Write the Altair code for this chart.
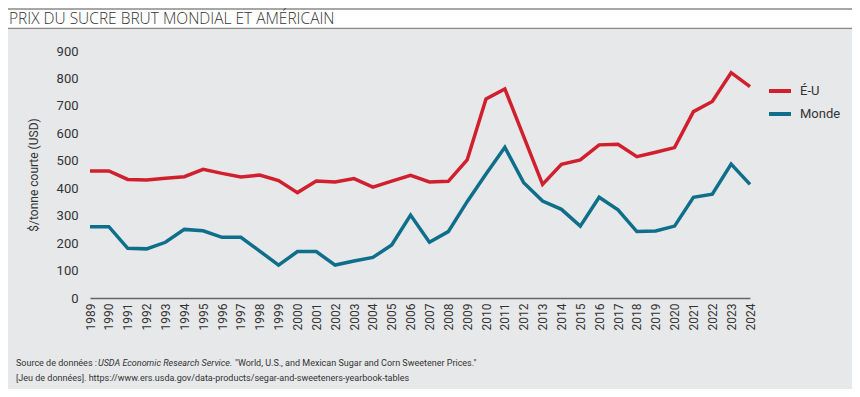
import altair as alt
import pandas as pd

years = list(range(1989, 2025))
us_price = [463, 463, 432, 430, 436, 442, 469, 454, 441, 448, 428, 384, 426, 423, 435, 404,
            426, 447, 423, 425, 503, 725, 762, 588, 414, 487, 503, 558, 560, 515, 531, 548,
            679, 716, 821, 770]
world_price = [260, 260, 181, 179, 203, 250, 245, 221, 221, 171, 120, 169, 169, 120, 135, 148,
               193, 302, 203, 242, 351, 452, 549, 420, 353, 323, 262, 367, 321, 242, 244, 262,
               367, 378, 488, 414]
series_names = ["É-U", "Monde"]
series_colors = ["#d0202e", "#0f6f8a"]
y_ticks = [0, 100, 200, 300, 400, 500, 600, 700, 800, 900]

title_text = "PRIX DU SUCRE BRUT MONDIAL ET AMÉRICAIN"
src_a = "Source de données :"
src_b = "USDA Economic Research Service."
src_c = "\"World, U.S., and Mexican Sugar and Corn Sweetener Prices.\""
src_d = "[Jeu de données]. https://www.ers.usda.gov/data-products/segar-and-sweeteners-yearbook-tables"

df = pd.DataFrame({
    "year": years * 2,
    "series": [series_names[0]] * len(years) + [series_names[1]] * len(years),
    "value": us_price + world_price,
})

one = pd.DataFrame({"a": [0]})
FONT = "Roboto"
PANEL = "#e7e8ea"

bg = alt.Chart(one).mark_rect(color=PANEL).encode(
    x=alt.value(-82), x2=alt.value(762), y=alt.value(-21), y2=alt.value(340))

top_line = alt.Chart(one).mark_rule(color="#8a8a8a", strokeWidth=1.5).encode(
    x=alt.value(-82), x2=alt.value(762), y=alt.value(-42))
bot_line = alt.Chart(one).mark_rule(color="#8a8a8a", strokeWidth=1.5).encode(
    x=alt.value(-82), x2=alt.value(762), y=alt.value(-22.5))

title = alt.Chart(one).mark_text(
    align="left", baseline="middle", font="Open Sans", fontSize=15.5, fontWeight=300,
    color="#333333").encode(x=alt.value(-81), y=alt.value(-32), text=alt.value(title_text))

def src(txt, x, y, italic=False):
    kw = dict(align="left", baseline="middle", font=FONT, fontSize=9, color="#333333")
    if italic:
        kw["fontStyle"] = "italic"
    return alt.Chart(one).mark_text(**kw).encode(
        x=alt.value(x), y=alt.value(y), text=alt.value(txt))

lines = alt.Chart(df).mark_line(strokeWidth=3.5, strokeJoin="miter").encode(
    x=alt.X("year:O", scale=alt.Scale(type="point", padding=0),
            axis=alt.Axis(title=None, labelAngle=-90, labelFont=FONT, labelFontSize=12,
                          labelColor="#333333", labelPadding=5, ticks=False,
                          domainColor="#666666", domainWidth=1.5, grid=False,
                          labelBaseline="middle", labelAlign="right", zindex=1)),
    y=alt.Y("value:Q", scale=alt.Scale(domain=[0, 900], nice=False),
            axis=alt.Axis(values=y_ticks, title="$/tonne courte (USD)", titleFont=FONT,
                          titleFontSize=12, titleFontWeight="normal", titleColor="#333333",
                          titleX=-57, titleY=123.5, titleAngle=-90, titleAlign="center",
                          titleBaseline="middle",
                          labelFont=FONT, labelFontSize=13, labelColor="#333333",
                          labelPadding=12, ticks=False, domain=False, grid=False, zindex=1)),
    color=alt.Color("series:N", scale=alt.Scale(domain=series_names, range=series_colors),
                    legend=alt.Legend(title=None, orient="none", legendX=677, legendY=27,
                                      symbolType="stroke", symbolSize=484,
                                      symbolStrokeWidth=4, labelFont=FONT,
                                      labelFontSize=13, labelColor="#333333",
                                      labelOffset=7, rowPadding=2)),
)

chart = alt.layer(
    bg, top_line, bot_line, title,
    src(src_a, -74, 312), src(src_b, 8, 312, italic=True), src(src_c, 145, 312),
    src(src_d, -74, 327),
    lines,
).properties(
    width=660, height=247,
    autosize=alt.AutoSizeParams(type="none"),
    padding={"left": 82, "top": 43, "right": 102, "bottom": 91},
    background="white",
).configure_view(stroke=None)

chart.save("out.html", embed_options={"renderer": "svg", "actions": False})
